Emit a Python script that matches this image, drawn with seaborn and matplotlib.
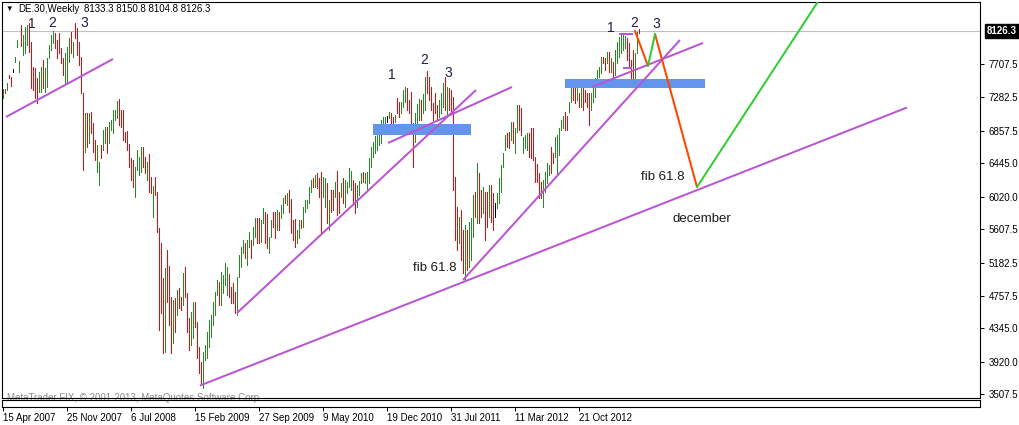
import numpy as np
import pandas as pd
import matplotlib
matplotlib.use("Agg")
import matplotlib.pyplot as plt
from matplotlib.patches import Rectangle
import seaborn as sns

sns.set_theme(style="white")
plt.rcParams['font.family'] = ['Liberation Sans', 'DejaVu Sans']

# ---------------- data (weekly DE.30 bars) ----------------
highs = [
    7390, 7390, 7466, 7568, 7542, 7644, 7797, 8013, 7746, 8203,
    8076, 8178, 8203, 8229, 7987, 7669, 7657, 7529, 7606, 7669,
    7758, 7657, 7784, 7949, 8076, 8127, 8102, 8013, 8102, 7911,
    7784, 7847, 7924, 8038, 8114, 7987, 8229, 8165, 7987, 7797,
    7339, 7084, 7084, 7084, 7097, 6957, 6741, 6678, 6461, 6678,
    6868, 6906, 6906, 6970,
    6995, 7123, 7123, 7237, 7262, 7123, 7123, 6843, 6856, 6690,
    6512, 6487, 6398, 6614, 6525, 6652, 6652, 6525, 6461, 6563,
    6271, 6156, 6271, 6080, 5622, 5431, 4986, 5113, 5342, 5139,
    4745, 4707, 4732, 4834, 4859, 4745, 5050, 5126, 4796, 4478,
    4554, 4681, 4681, 4427, 4109, 3918, 4045, 4134, 4300, 4452,
    4516, 4681, 4808,
    4961, 4935, 5063, 5024, 5177, 5126, 5037, 4872, 4923, 4808,
    4999, 5279, 5380, 5470, 5431, 5470, 5571, 5470, 5635, 5749,
    5749, 5749, 5724, 5876, 5826, 5800, 5508, 5724, 5826, 5826,
    5851, 5826, 5915, 6004, 6042, 6067, 6105, 5991, 5724, 5737,
    5597, 5724, 5724, 5889, 5978, 5978, 6143, 6232, 6258, 6296,
    6321, 6258,
    6334, 6271, 6258, 6194, 5978, 6105, 6105, 6207, 6347, 6080,
    6194, 6258, 6232, 6207, 6385, 6347, 6232, 6194, 6169, 6220,
    6321, 6334, 6321, 6334, 6512, 6652, 6716, 6792, 6843, 6932,
    6995, 7034, 7034, 7046, 7097, 7084, 7034, 7059, 7275, 7224,
    7224, 7377, 7415, 7402, 7250, 7351, 6957, 7084, 7199, 7262,
    7250, 7326, 7542,
    7619, 7542, 7415, 7212, 7339, 7186, 7250, 7339, 7466, 7542,
    7415, 7402, 7377, 7288, 6271, 5889, 5762, 5851, 5597, 5660,
    5597, 5698, 5749, 6042, 6080, 6449, 6321, 6105, 6143, 6080,
    6080, 6169, 6169, 6067, 5940, 6067, 6258, 6423, 6576, 6805,
    6830, 6843, 6970, 6970, 6894, 7186, 7186, 7148, 6779, 6805,
    6830, 6830, 6894,
    6894, 6525, 6436, 6321, 6207, 6232, 6334, 6449, 6423, 6652,
    6576, 6779, 6805, 6894, 6995, 7046, 7097, 7046, 7224, 7504,
    7440, 7415, 7428, 7339, 7440, 7428, 7377, 7339, 7339, 7339,
    7415, 7529, 7631, 7669, 7797, 7797, 7784, 7860, 7860, 7784,
    7733, 7886, 7987, 8051, 8076, 8076, 8064, 8038, 7975, 7758,
    7886, 7847, 8114, 8150.8,
]
lows = [
    7275, 7339, 7377, 7529, 7428, 7606, 7733, 7924, 7606, 7936,
    7822, 7847, 7949, 7860, 7402, 7377, 7275, 7212, 7351, 7351,
    7402, 7351, 7415, 7784, 7886, 7975, 7911, 7784, 7847, 7720,
    7568, 7466, 7479, 7733, 7847, 7797, 8038, 7822, 7695, 7339,
    6360, 6589, 6652, 6703, 6830, 6589, 6487, 6334, 6169, 6512,
    6614, 6703, 6576, 6703,
    6868, 6830, 6995, 7021, 6932, 6906, 6741, 6716, 6614, 6398,
    6232, 6143, 6016, 6360, 6296, 6334, 6398, 6321, 6232, 6080,
    6067, 5762, 6042, 5571, 4325, 4541, 4033, 4045, 4681, 4389,
    4033, 4160, 4300, 4516, 4605, 4579, 4643, 4745, 4300, 4071,
    4134, 4223, 4363, 3969, 3778, 3626, 3588, 3944, 3969, 4109,
    4236, 4389, 4516,
    4770, 4643, 4643, 4796, 4897, 4770, 4745, 4668, 4668, 4541,
    4516, 4999, 5126, 5304, 5241, 5152, 5380, 5241, 5406, 5508,
    5431, 5431, 5444, 5686, 5431, 5368, 5304, 5508, 5635, 5495,
    5597, 5597, 5749, 5813, 5940, 5915, 5826, 5559, 5470, 5380,
    5431, 5495, 5622, 5635, 5826, 5876, 5940, 6080, 6143, 6143,
    6131, 6016,
    5559, 6016, 5889, 5686, 5597, 5826, 5851, 6016, 5787, 5813,
    6016, 5940, 5889, 6067, 6143, 6105, 5940, 5813, 5889, 6042,
    6194, 6207, 6194, 6105, 6194, 6398, 6525, 6576, 6614, 6678,
    6703, 6868, 6932, 6970, 7021, 6932, 6830, 6970, 7084, 7034,
    7084, 7161, 7224, 7123, 7084, 6932, 6398, 6716, 6868, 6995,
    6995, 7084, 7123,
    7339, 7250, 7123, 6995, 7084, 6995, 7034, 7084, 7161, 7123,
    7059, 7123, 7084, 6105, 5470, 5342, 5431, 5215, 5050, 4961,
    5088, 5126, 5215, 5508, 5762, 5686, 5686, 5762, 5813, 5470,
    5635, 5762, 5698, 5597, 5762, 5876, 5940, 6080, 6398, 6614,
    6652, 6639, 6741, 6703, 6576, 6843, 6868, 6805, 6576, 6639,
    6614, 6525, 6512,
    6487, 6207, 6207, 6004, 6004, 5889, 6080, 6194, 6296, 6321,
    6449, 6525, 6296, 6550, 6868, 6894, 6868, 6868, 7097, 7224,
    7250, 7212, 7250, 7161, 7161, 7123, 7224, 7161, 6932, 7123,
    7224, 7288, 7479, 7542, 7593, 7720, 7631, 7720, 7606, 7606,
    7529, 7568, 7720, 7797, 7847, 7886, 7911, 7758, 7657, 7415,
    7415, 7504, 7847, 8104.8,
]
# g = up week, r = down week, k = unchanged
direction = (
    "grgrrkgggr" "gggrrrrrgg" "rgggggrrrr" "rgggrgrrrr" "rgrgrrrggr" "ggrg"
    "ggggrrrrrr" "rrggggrrgr" "rgrrrrrgrr" "rgrgrrgrrr" "ggrrrrgggg" "ggg"
    "grggggrrrr" "ggggrggrgg" "rrggrrggrr" "grggrgrrrr" "ggrgggggrg" "rr"
    "rggrgrrgrr" "grggggrrgg" "grgggggggg" "gggkgrrgrr" "gggrrrrggg" "rgg"
    "rrrrrrgggr" "grrrrrgrrg" "rgggrgrrgr" "rgrrkggggg" "rrgrggrrgg" "grr"
    "rrrrrggggr" "rgggggrrgg" "rrgrgrrrrg" "gggggrrgrg" "rggggggrrr" "rggr"
)

week_start = "2007-04-15"
date_labels = ["15 Apr 2007", "25 Nov 2007", "6 Jul 2008", "15 Feb 2009", "27 Sep 2009",
               "9 May 2010", "19 Dec 2010", "31 Jul 2011", "11 Mar 2012", "21 Oct 2012"]
price_ticks = [7707.5, 7282.5, 6857.5, 6445.0, 6020.0, 5607.5, 5182.5, 4757.5, 4345.0, 3920.0, 3507.5]
last_close = 8126.3
header_symbol = "DE.30,Weekly"
header_ohlc = "8133.3 8150.8 8104.8 8126.3"
copyright_text = "MetaTrader FIX, \u00a9 2001-2013, MetaQuotes Software Corp."

# drawn objects: (bar index, price) pairs
trend_lines = [
    [(1.5, 7034), (55, 7771)],
    [(98.5, 3619), (452, 7154)],
    [(117, 4541), (236.5, 7377)],
    [(192.5, 6703), (254.5, 7415)],
    [(230, 4961), (338.5, 8013)],
    [(294.5, 7415), (350, 7975)],
    [(308, 8089), (315, 8089)],
    [(310, 7657), (314.5, 7657)],
]
zones = [(185, 234, 6805, 6945), (281, 351, 7402, 7517)]
down_legs = [[(316, 8127), (322.5, 7682)], [(326, 8089), (347, 6143)]]
up_legs = [[(322.5, 7682), (326, 8089)], [(347, 6143), (408, 8521)]]
wave_texts = ["1", "2", "3", "1", "2", "3", "1", "2", "3"]
wave_pos = [(14.5, 8216), (24.5, 8229), (40.5, 8229),
            (194.5, 7568), (210.5, 7758), (222.5, 7593),
            (304, 8165), (315.5, 8229), (326.5, 8216)]
notes = ["fib 61.8", "fib 61.8", "december"]
note_pos = [(216, 5113), (330, 6271), (349.5, 5736)]

# ---------------- figure ----------------
W, H = 1020, 425
fig = plt.figure(figsize=(W / 100, H / 100), dpi=100)
fig.patch.set_facecolor("white")


def box(x0, y0, x1, y1):
    return [x0 / W, 1 - y1 / H, (x1 - x0) / W, (y1 - y0) / H]


ax = fig.add_axes(box(2, 2, 980, 398))
ax2 = fig.add_axes(box(2, 400, 980, 407))
ax2.set_facecolor("none")

df = pd.DataFrame({"high": highs, "low": lows, "dir": list(direction)})
df["date"] = pd.date_range(week_start, periods=len(df), freq="7D")
df["i"] = np.arange(len(df))
col_map = {"g": "#228B22", "r": "#FF0000", "k": "#000000"}

xlim = (-0.5, 488.5)
ylim = (3460.4, 8495.9)

ax.axhline(last_close, color="#C0C0C0", lw=0.8, zorder=1)
ax.vlines(df["i"], df["low"], df["high"], colors=df["dir"].map(col_map),
          linewidth=0.68, antialiased=False, zorder=2)

for x0, x1, p0, p1 in zones:
    ax.add_patch(Rectangle((x0, p0), x1 - x0, p1 - p0, facecolor="#6495ED",
                           edgecolor="none", zorder=3))
for seg in trend_lines:
    (xa, ya), (xb, yb) = seg
    ax.plot([xa, xb], [ya, yb], color="#BA55D3", lw=1.45, solid_capstyle="butt", zorder=4)
for seg in down_legs:
    (xa, ya), (xb, yb) = seg
    ax.plot([xa, xb], [ya, yb], color="#FF4500", lw=1.45, zorder=5)
for seg in up_legs:
    (xa, ya), (xb, yb) = seg
    ax.plot([xa, xb], [ya, yb], color="#32CD32", lw=1.45, zorder=5)

for t, (x, y) in zip(wave_texts, wave_pos):
    ax.text(x, y, t, ha="center", va="center", fontsize=10, color="#1E1E46", zorder=6)
for t, (x, y) in zip(notes, note_pos):
    ax.text(x, y, t, ha="center", va="center", fontsize=9.5, color="#1A1A1A", zorder=6)

ax.set_xlim(*xlim)
ax.set_ylim(*ylim)
ax.set_xticks([])
ax.yaxis.tick_right()
ax.set_yticks(price_ticks)
ax.set_yticklabels([f"{v:.1f}" for v in price_ticks])
ax.tick_params(axis="y", direction="out", length=3, width=0.7, labelsize=7, pad=3,
               colors="black", right=True, left=False)
for s in ax.spines.values():
    s.set_color("black")
    s.set_linewidth(0.8)

ax.annotate(f"{last_close:.1f}", xy=(1.0, last_close), xycoords=("axes fraction", "data"),
            xytext=(5, 0), textcoords="offset points", ha="left", va="center",
            fontsize=7, color="white", fontweight="bold",
            bbox=dict(boxstyle="square,pad=0.2", fc="black", ec="black"), annotation_clip=False)

# header and copyright
ax.text(0.004, 0.982, "\u25bc", transform=ax.transAxes, fontsize=5.5, color="black",
        ha="left", va="center")
ax.text(0.0165, 0.982, header_symbol, transform=ax.transAxes, fontsize=7, color="black",
        ha="left", va="center")
ax.text(0.084, 0.982, header_ohlc, transform=ax.transAxes, fontsize=7, color="black",
        ha="left", va="center")
ax.text(0.005, 0.0, copyright_text, transform=ax.transAxes, fontsize=7, color="#8C8C8C",
        ha="left", va="center", zorder=0.5, clip_on=False)

# date strip
ax2.set_xlim(*xlim)
ax2.set_yticks([])
label_dates = pd.to_datetime(date_labels, format="%d %b %Y")
tick_pos = [int(df.index[df["date"] == d][0]) for d in label_dates]
ax2.set_xticks(tick_pos)
ax2.set_xticklabels(date_labels)
for lab in ax2.get_xticklabels():
    lab.set_ha("left")
ax2.tick_params(axis="x", direction="out", length=3, width=0.7, labelsize=7, pad=1.5,
                colors="black", bottom=True)
for s in ax2.spines.values():
    s.set_color("black")
    s.set_linewidth(0.8)

fig.savefig("out.png", dpi=100, facecolor="white")
